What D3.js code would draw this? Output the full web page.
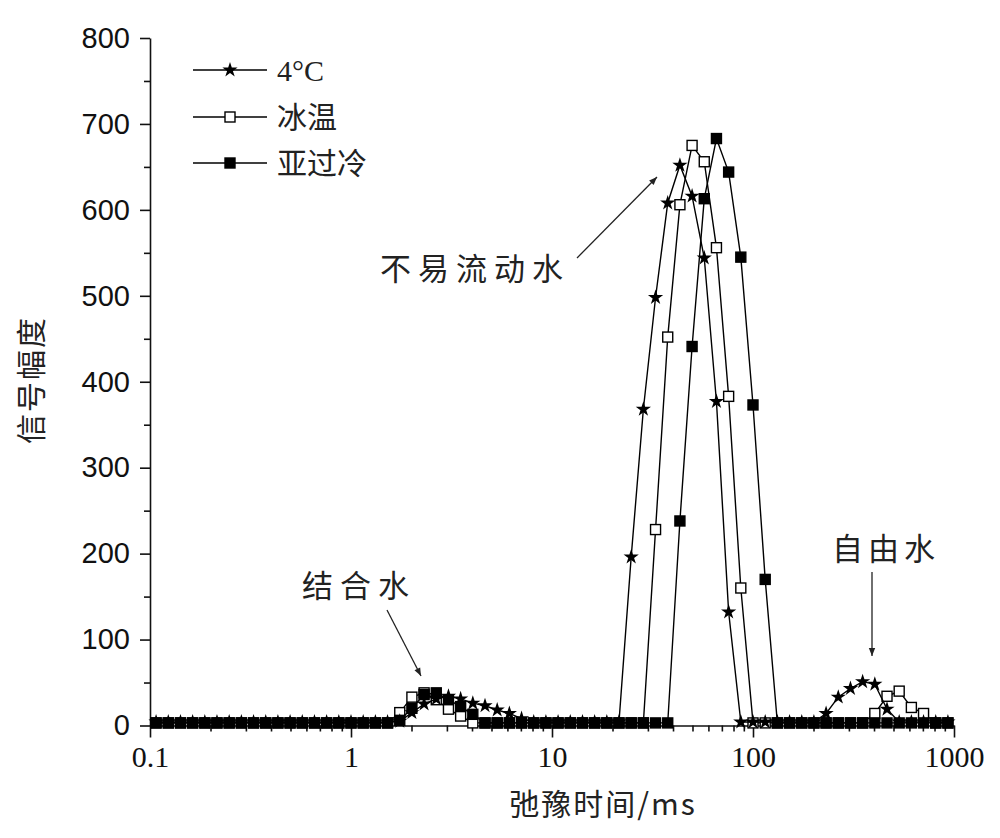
<!DOCTYPE html>
<html>
<head>
<meta charset="utf-8">
<script src="https://cdn.jsdelivr.net/npm/d3@7"></script>
<style>
  body { margin: 0; background: #fff; }
  .cjk { font-family: "Noto Sans CJK SC", sans-serif; }
</style>
</head>
<body>
<div id="chart"></div>
<script>
// relaxation time grid (ms), one point per inversion bin
var tTimes = [0.1072,0.1233,0.1418,0.1630,0.1874,0.2154,0.2477,0.2848,0.3275,0.3765,
  0.4329,0.4977,0.5722,0.6579,0.7565,0.8697,1.000,1.150,1.322,1.520,
  1.748,2.009,2.310,2.656,3.054,3.511,4.037,4.642,5.337,6.136,
  7.055,8.111,9.326,10.72,12.33,14.18,16.30,18.74,21.54,24.77,
  28.48,32.75,37.65,43.29,49.77,57.22,65.79,75.65,86.97,100.0,
  115.0,132.2,152.0,174.8,200.9,231.0,265.6,305.4,351.1,403.7,
  464.2,533.7,613.6,705.5,811.1,932.6];

var amp4C = [4,4,4,4,4,4,4,4,4,4,
  4,4,4,4,4,4,4,4,4,4,
  5,15,25,31,34,31,26,23,18,14,
  8,4,4,4,4,4,4,4,4,196,
  368,498,608,652,616,544,377,132,4,4,
  4,4,4,4,4,14,33,43,51,48,
  19,4,4,4,4,4];

var ampIce = [3,3,3,3,3,3,3,3,3,3,
  3,3,3,3,3,3,3,3,3,3,
  15,33,38,30,19,11,3,3,3,3,
  3,3,3,3,3,3,3,3,3,3,
  3,228,452,606,675,656,556,383,160,3,
  3,3,3,3,3,3,3,3,3,14,
  34,40,21,14,3,3];

var ampSub = [3,3,3,3,3,3,3,3,3,3,
  3,3,3,3,3,3,3,3,3,3,
  6,20,36,38,30,22,13,3,3,3,
  3,3,3,3,3,3,3,3,3,3,
  3,3,3,238,441,613,683,644,545,373,
  170,3,3,3,3,3,3,3,3,3,
  3,3,3,3,3,3];

var seriesNames = ["4°C", "冰温", "亚过冷"];
var xTicks = [0.1, 1, 10, 100, 1000];
var xTickLabels = ["0.1", "1", "10", "100", "1000"];
var yTicks = [0, 100, 200, 300, 400, 500, 600, 700, 800];
var yTickLabels = ["0", "100", "200", "300", "400", "500", "600", "700", "800"];

var W = 1000, H = 838;
var svg = d3.select("#chart").append("svg")
    .attr("width", W).attr("height", H);

var x = d3.scaleLog().domain([0.1, 1000]).range([150, 954]);
var y = d3.scaleLinear().domain([0, 800]).range([725.5, 38]);

// minor ticks
var xMinor = [];
[0.1, 1, 10, 100].forEach(function(d) {
  for (var k = 2; k <= 9; k++) xMinor.push(d * k);
});
var yMinor = yTicks.slice(0, -1).map(function(d) { return d + 50; });

var xAxis = svg.append("g").attr("transform", "translate(0," + y(0) + ")")
  .call(d3.axisBottom(x).tickValues(xTicks)
    .tickFormat(function(d, i) { return xTickLabels[i]; })
    .tickSize(12).tickPadding(8).tickSizeOuter(0));
svg.append("g").attr("transform", "translate(0," + y(0) + ")")
  .call(d3.axisBottom(x).tickValues(xMinor).tickFormat("").tickSize(6).tickSizeOuter(0))
  .select(".domain").remove();
xAxis.selectAll("text")
  .attr("font-family", "'Liberation Serif', 'Times New Roman', serif")
  .attr("font-size", 30).attr("fill", "#111");

var yAxis = svg.append("g").attr("transform", "translate(" + x(0.1) + ",0)")
  .call(d3.axisLeft(y).tickValues(yTicks)
    .tickFormat(function(d, i) { return yTickLabels[i]; })
    .tickSize(10).tickPadding(10).tickSizeOuter(0));
svg.append("g").attr("transform", "translate(" + x(0.1) + ",0)")
  .call(d3.axisLeft(y).tickValues(yMinor).tickFormat("").tickSize(6).tickSizeOuter(0))
  .select(".domain").remove();
yAxis.selectAll("text")
  .attr("font-family", "'Liberation Sans', Arial, sans-serif")
  .attr("font-size", 29).attr("fill", "#111");

svg.selectAll(".domain, .tick line").attr("stroke", "#111").attr("stroke-width", 1.6);

// series
var starPath = d3.symbol().type(d3.symbolStar).size(72);
function drawMarker(g, kind) {
  if (kind === "star") {
    g.append("path").attr("d", starPath()).attr("fill", "#000");
  } else {
    g.append("rect").attr("x", -5).attr("y", -5).attr("width", 10).attr("height", 10)
      .attr("fill", kind === "open" ? "#fff" : "#000")
      .attr("stroke", "#000").attr("stroke-width", 1.4);
  }
}

var line = d3.line()
  .x(function(d) { return x(d[0]); })
  .y(function(d) { return y(d[1]); });

var plots = [
  {vals: ampIce, kind: "open"},
  {vals: ampSub, kind: "filled"},
  {vals: amp4C, kind: "star"}
];
plots.forEach(function(p) {
  var pts = tTimes.map(function(t, i) { return [t, p.vals[i]]; });
  svg.append("path").datum(pts)
    .attr("fill", "none").attr("stroke", "#000").attr("stroke-width", 1.4)
    .attr("d", line);
  svg.append("g").selectAll("g").data(pts).join("g")
    .attr("transform", function(d) { return "translate(" + x(d[0]) + "," + y(d[1]) + ")"; })
    .each(function() { drawMarker(d3.select(this), p.kind); });
});

// legend
var legKinds = ["star", "open", "filled"];
var legY = [70, 117, 163];
seriesNames.forEach(function(name, i) {
  var g = svg.append("g").attr("transform", "translate(0," + legY[i] + ")");
  g.append("line").attr("x1", 193).attr("x2", 267).attr("stroke", "#000").attr("stroke-width", 1.4);
  var m = g.append("g").attr("transform", "translate(230,0)");
  drawMarker(m, legKinds[i]);
  g.append("text").attr("x", 277).attr("y", 11)
    .attr("class", i === 0 ? null : "cjk")
    .attr("font-family", i === 0 ? "'Liberation Serif', serif" : null)
    .attr("font-size", 30).attr("fill", "#222").text(name);
});

// annotations with arrows
svg.append("defs").append("marker")
  .attr("id", "ah").attr("viewBox", "0 0 10 10").attr("refX", 10).attr("refY", 5)
  .attr("markerWidth", 12).attr("markerHeight", 8).attr("markerUnits", "userSpaceOnUse")
  .attr("orient", "auto")
  .append("path").attr("d", "M0,1 L10,5 L0,9 Z").attr("fill", "#222");

var notes = [
  {text: "不易流动水", tx: 380, ty: 280, ls: 7, x1: 577, y1: 258, x2: 657, y2: 177},
  {text: "结合水", tx: 302, ty: 597, ls: 7, x1: 387, y1: 610, x2: 421, y2: 676},
  {text: "自由水", tx: 832, ty: 560, ls: 5, x1: 872, y1: 572, x2: 872, y2: 656}
];
notes.forEach(function(n) {
  svg.append("text").attr("class", "cjk").attr("x", n.tx).attr("y", n.ty)
    .attr("font-size", 31).attr("letter-spacing", n.ls).attr("fill", "#222").text(n.text);
  svg.append("line").attr("x1", n.x1).attr("y1", n.y1).attr("x2", n.x2).attr("y2", n.y2)
    .attr("stroke", "#222").attr("stroke-width", 1.3).attr("marker-end", "url(#ah)");
});

// axis titles
svg.append("text")
  .attr("transform", "translate(42,380) rotate(-90)")
  .attr("text-anchor", "middle").attr("class", "cjk")
  .attr("font-size", 30).attr("letter-spacing", 2).attr("fill", "#222").text("信号幅度");
svg.append("text").attr("x", 603).attr("y", 815)
  .attr("text-anchor", "middle").attr("class", "cjk")
  .attr("font-size", 30).attr("letter-spacing", 2).attr("fill", "#222")
  .text("弛豫时间/ms");
</script>
</body>
</html>
